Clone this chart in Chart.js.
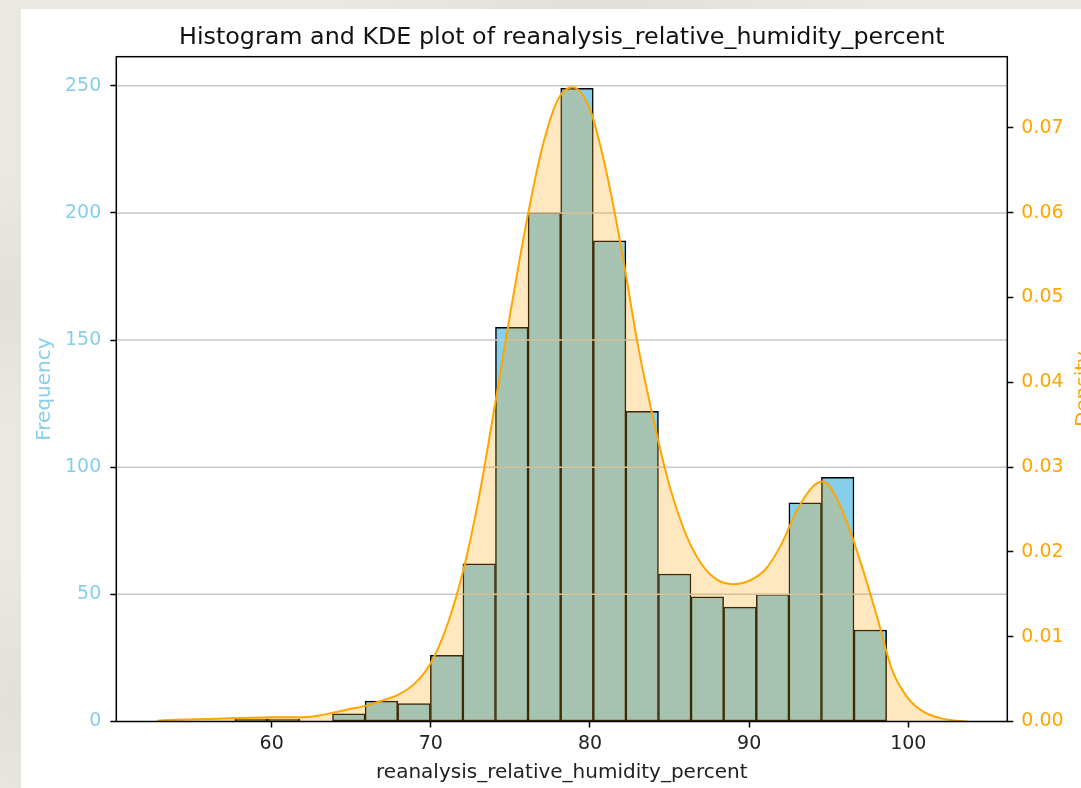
<!DOCTYPE html>
<html>
<head>
<meta charset="utf-8">
<title>Histogram and KDE plot of reanalysis_relative_humidity_percent</title>
<script src="https://cdn.jsdelivr.net/npm/chart.js@4.4.1/dist/chart.umd.min.js"></script>
<style>
  html, body { margin: 0; padding: 0; overflow: hidden; background: #ebe8e3; }
  canvas { display: block; }
</style>
</head>
<body>
<canvas id="chart" width="1081" height="788"></canvas>
<script>
// histogram: 20 bins of relative humidity (%)
const binEdges = [57.68, 59.73, 61.78, 63.82, 65.87, 67.92, 69.97, 72.02, 74.06, 76.11,
                  78.16, 80.21, 82.26, 84.30, 86.35, 88.40, 90.45, 92.50, 94.54, 96.59, 98.64];
const binCounts = [1, 1, 0, 3, 8, 7, 26, 62, 155, 200, 249, 189, 122, 58, 49, 45, 50, 86, 96, 36];

// kernel density estimate (right axis)
const kdeX = [52.8, 54, 56, 58, 60, 62, 63, 64, 65, 66, 67, 68, 69, 70, 71, 72, 73, 74, 75, 76,
              77, 78, 78.9, 80, 81, 82, 83, 84, 85, 86, 87, 88, 89, 90, 91, 92, 93, 94, 94.6, 95,
              96, 97, 98, 99, 100, 101, 102, 103, 103.7];
const kdeY = [0.0001, 0.0002, 0.0003, 0.0004, 0.0005, 0.0005, 0.0007, 0.0011, 0.0015, 0.0019,
              0.0025, 0.0032, 0.0045, 0.0069, 0.0112, 0.0175, 0.0262, 0.0370, 0.0482, 0.0588,
              0.0677, 0.0734, 0.0748, 0.0722, 0.0651, 0.0555, 0.0445, 0.0355, 0.0278, 0.0222,
              0.0186, 0.0167, 0.0162, 0.0166, 0.0179, 0.0208, 0.0249, 0.0277, 0.0283, 0.0279,
              0.0242, 0.0188, 0.0126, 0.0060, 0.0027, 0.0011, 0.0004, 0.0001, 0.0000];

// axis ticks
const xTicks = [60, 70, 80, 90, 100];
const freqTicks = [0, 50, 100, 150, 200, 250];
const densityTicks = [0, 0.01, 0.02, 0.03, 0.04, 0.05, 0.06, 0.07];

const FONT = 'DejaVu Sans';
const SKY = '#87CEEB';
const ORANGE = '#FFA500';
const W = 1081, H = 788;
// plot box edges (px)
const BOX = { left: 116.3, right: 1007.3, top: 56.7, bottom: 721.5 };

const histPoints = binCounts.map((c, i) => ({ x: (binEdges[i] + binEdges[i + 1]) / 2, y: c }));
const kdePoints = kdeX.map((x, i) => ({ x: x, y: kdeY[i] }));

const setTicks = list => scale => { scale.ticks = list.map(v => ({ value: v })); };
const tickMarks = {
  offset: false, drawOnChartArea: false, drawTicks: true,
  tickLength: 6, tickWidth: 1.5, tickColor: '#000'
};
const tickFont = { family: FONT, size: 19 };
const labelFont = { family: FONT, size: 20 };

const paper = {
  id: 'paper',
  beforeDraw(chart) {
    const ctx = chart.ctx;
    ctx.save();
    ctx.fillStyle = '#ebe8e3';
    ctx.fillRect(0, 0, W, H);
    // faint marbling on the backdrop
    [[10, 300, 120], [600, 0, 260], [30, 700, 140]].forEach(([cx, cy, r]) => {
      const g = ctx.createRadialGradient(cx, cy, 0, cx, cy, r);
      g.addColorStop(0, 'rgba(210,205,197,0.35)');
      g.addColorStop(1, 'rgba(210,205,197,0)');
      ctx.fillStyle = g;
      ctx.fillRect(0, 0, W, H);
    });
    ctx.fillStyle = '#ffffff';
    ctx.fillRect(21, 9, W - 21, H - 9);
    ctx.restore();
  },
  // grid sits above the bars but under the density fill
  afterDatasetDraw(chart, args) {
    if (args.meta.type !== 'bar') return;
    const { ctx, chartArea, scales } = chart;
    ctx.save();
    ctx.strokeStyle = '#c8c8c8';
    ctx.lineWidth = 1.5;
    freqTicks.filter(v => v > 0).forEach(v => {
      const y = scales.y.getPixelForValue(v);
      ctx.beginPath();
      ctx.moveTo(chartArea.left, y);
      ctx.lineTo(chartArea.right, y);
      ctx.stroke();
    });
    ctx.restore();
  },
  afterDraw(chart) {
    const { ctx, chartArea } = chart;
    ctx.save();
    ctx.strokeStyle = '#000';
    ctx.lineWidth = 1.5;
    ctx.strokeRect(chartArea.left, chartArea.top, chartArea.right - chartArea.left, chartArea.bottom - chartArea.top);

    ctx.fillStyle = '#111';
    ctx.font = '23.8px "' + FONT + '"';
    ctx.textAlign = 'center';
    ctx.textBaseline = 'alphabetic';
    ctx.fillText('Histogram and KDE plot of reanalysis_relative_humidity_percent',
                 (chartArea.left + chartArea.right) / 2, 44);

    // right axis label, reads bottom to top
    ctx.translate(1089, (chartArea.top + chartArea.bottom) / 2);
    ctx.rotate(-Math.PI / 2);
    ctx.fillStyle = ORANGE;
    ctx.font = '20px "' + FONT + '"';
    ctx.fillText('Density', 0, 0);
    ctx.restore();
  }
};

new Chart(document.getElementById('chart'), {
  type: 'bar',
  data: {
    datasets: [
      {
        type: 'line',
        label: 'KDE',
        data: kdePoints,
        xAxisID: 'x',
        yAxisID: 'y1',
        order: 1,
        borderColor: ORANGE,
        borderWidth: 2,
        backgroundColor: 'rgba(255,165,0,0.25)',
        fill: 'origin',
        pointRadius: 0,
        cubicInterpolationMode: 'monotone'
      },
      {
        type: 'bar',
        label: 'Frequency',
        data: histPoints,
        xAxisID: 'x',
        yAxisID: 'y',
        order: 2,
        backgroundColor: SKY,
        borderColor: '#000',
        borderWidth: 1.5,
        borderSkipped: false,
        barPercentage: 1,
        categoryPercentage: 1,
        grouped: false
      }
    ]
  },
  options: {
    responsive: false,
    devicePixelRatio: 1,
    animation: false,
    layout: { padding: { top: BOX.top, left: 0, right: 0, bottom: 0 } },
    plugins: { legend: { display: false }, tooltip: { enabled: false } },
    scales: {
      x: {
        type: 'linear',
        min: 50.24, max: 106.22,
        offset: false,
        afterBuildTicks: setTicks(xTicks),
        afterFit: s => { s.height = H - BOX.bottom; },
        grid: tickMarks,
        border: { display: false },
        ticks: { color: '#222', font: tickFont, padding: 5, maxRotation: 0 },
        title: {
          display: true, text: 'reanalysis_relative_humidity_percent', color: '#222',
          font: labelFont, padding: { top: 0, bottom: 3 }
        }
      },
      y: {
        type: 'linear',
        position: 'left',
        min: 0, max: 261.45,
        afterBuildTicks: setTicks(freqTicks),
        afterFit: s => { s.width = BOX.left; },
        grid: tickMarks,
        border: { display: false },
        ticks: { color: SKY, font: tickFont, padding: 9 },
        title: {
          display: true, text: 'Frequency', color: SKY,
          font: labelFont, padding: { top: 33, bottom: 0 }
        }
      },
      y1: {
        type: 'linear',
        position: 'right',
        min: 0, max: 0.0784,
        afterBuildTicks: setTicks(densityTicks),
        afterFit: s => { s.width = W - BOX.right; },
        grid: tickMarks,
        border: { display: false },
        ticks: { color: ORANGE, font: tickFont, padding: 8, callback: v => v.toFixed(2) }
      }
    }
  },
  plugins: [paper]
});
</script>
</body>
</html>
